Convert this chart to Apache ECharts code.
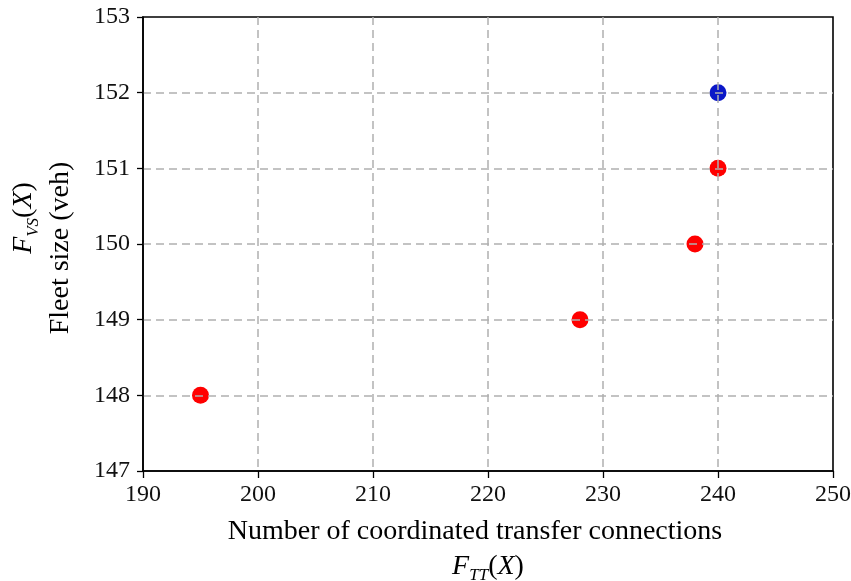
<!DOCTYPE html>
<html><head><meta charset="utf-8">
<script src="https://cdn.jsdelivr.net/npm/echarts@6/dist/echarts.min.js"></script>
<style>html,body{margin:0;padding:0;background:#fff}#c{width:851px;height:581px}</style>
</head><body><div id="c"></div>
<script>
const redX = [195, 228, 238, 240];
const redY = [148, 149, 150, 151];
const blueX = [240];
const blueY = [152];
const xTicks = [190, 200, 210, 220, 230, 240, 250];
const yTicks = [147, 148, 149, 150, 151, 152, 153];

const FONT = 'Liberation Serif';
const chart = echarts.init(document.getElementById('c'), null, {renderer: 'canvas'});
const rich = {
  i: {fontFamily: FONT, fontStyle: 'italic', fontSize: 28, color: '#000'},
  p: {fontFamily: FONT, fontSize: 28, color: '#000'},
  s: {fontFamily: FONT, fontStyle: 'italic', fontSize: 17, color: '#000', verticalAlign: 'bottom', padding: [17, 0, 0, 0]},
  n: {fontFamily: FONT, fontSize: 28, color: '#000'},
  gapA: {width: 52, fontSize: 28},
  gapB: {width: 8, fontSize: 28},
  gapC: {width: 26, fontSize: 28}
};
chart.setOption({
  animation: false,
  backgroundColor: '#fff',
  grid: {left: 143, right: 18, top: 17, bottom: 110, show: true, borderColor: '#000', borderWidth: 1.6,
         backgroundColor: 'transparent', outerBoundsMode: 'none', containLabel: false},
  xAxis: {
    type: 'value', min: xTicks[0], max: xTicks[xTicks.length - 1], interval: 10,
    name: '{n|Number of coordinated transfer connections}{gapC| }\n{i|F}{s|TT}{p|(}{i|X}{p|)}',
    nameLocation: 'middle', nameGap: 43,
    nameTextStyle: {rich: rich, align: 'center', lineHeight: 35},
    axisLine: {show: true, lineStyle: {color: '#000', width: 1.6}},
    axisTick: {show: true, inside: false, length: 7, lineStyle: {color: '#000', width: 1.3}},
    axisLabel: {color: '#111', fontFamily: FONT, fontSize: 24, margin: 12},
    splitLine: {show: true, showMinLine: false, showMaxLine: false, lineStyle: {color: '#b0b0b0', type: [8, 5], width: 1.5}}
  },
  yAxis: {
    type: 'value', min: yTicks[0], max: yTicks[yTicks.length - 1], interval: 1,
    name: '{gapA| }{i|F}{s|VS}{p|(}{i|X}{p|)}\n{n|Fleet size (veh)}{gapB| }',
    nameLocation: 'middle', nameGap: 64, nameRotate: 90,
    nameTextStyle: {rich: rich, align: 'center', lineHeight: 37},
    axisLine: {show: true, lineStyle: {color: '#000', width: 1.6}},
    axisTick: {show: true, inside: false, length: 6, lineStyle: {color: '#000', width: 1.3}},
    axisLabel: {color: '#111', fontFamily: FONT, fontSize: 24, margin: 13},
    splitLine: {show: true, showMinLine: false, showMaxLine: false, lineStyle: {color: '#b0b0b0', type: [8, 5], width: 1.5}}
  },
  series: [
    {type: 'scatter', z: -1, symbolSize: 17, itemStyle: {color: '#ff0000', opacity: 1},
     data: redX.map((x, i) => [x, redY[i]])},
    {type: 'scatter', z: -1, symbolSize: 17, itemStyle: {color: '#0b18c8', opacity: 1},
     data: blueX.map((x, i) => [x, blueY[i]])}
  ]
});
</script></body></html>
